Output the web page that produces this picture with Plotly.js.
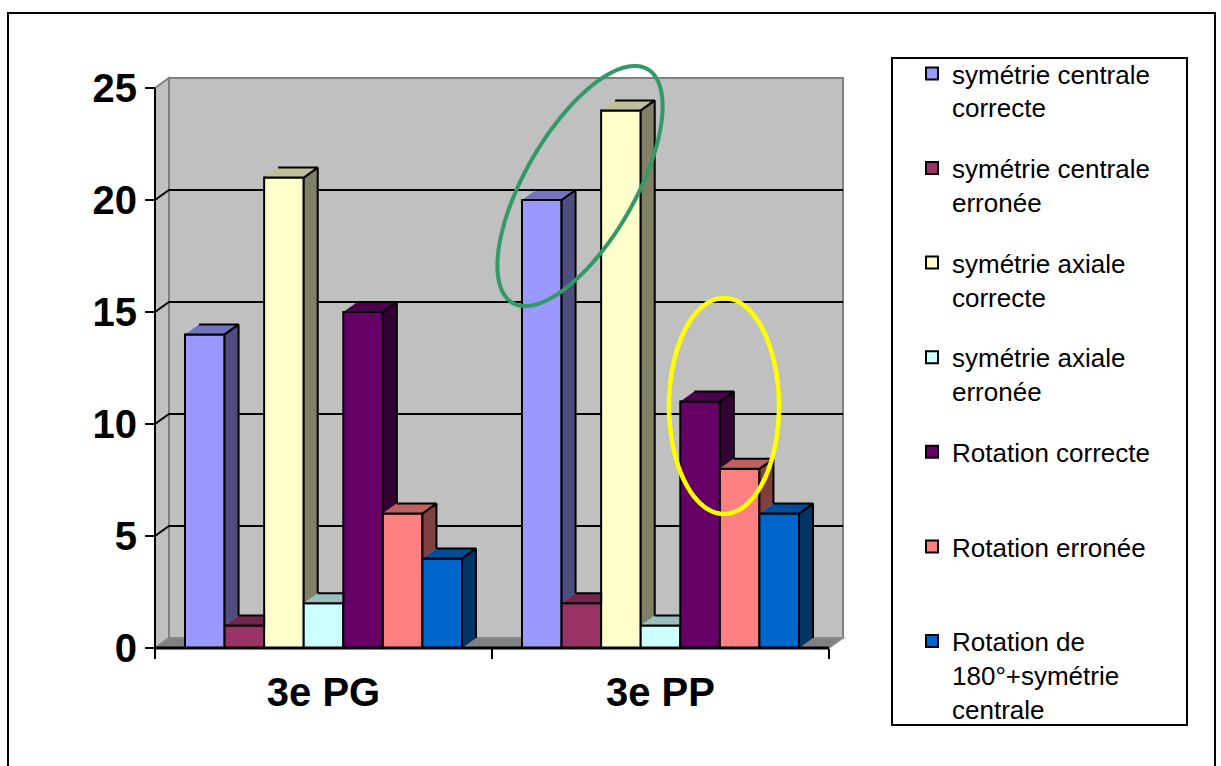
<!DOCTYPE html>
<html><head><meta charset="utf-8">
<script src="https://cdn.plot.ly/plotly-3.0.1.min.js"></script>
<style>html,body{margin:0;padding:0;background:#fff;} #chart{width:1221px;height:766px;}</style>
</head><body><div id="chart"></div>
<script>
// ---------- data ----------
const categories = ['3e PG', '3e PP'];
const seriesNames = [
  'symétrie centrale<br>correcte',
  'symétrie centrale<br>erronée',
  'symétrie axiale<br>correcte',
  'symétrie axiale<br>erronée',
  'Rotation correcte<br> ',
  'Rotation erronée<br> ',
  'Rotation de<br>180°+symétrie<br>centrale'
];
const symCentraleCorrecte = [14, 20];
const symCentraleErronee = [1, 2];
const symAxialeCorrecte = [21, 24];
const symAxialeErronee = [2, 1];
const rotationCorrecte = [15, 11];
const rotationErronee = [6, 8];
const rotation180Symetrie = [4, 6];
const yTickValues = [0, 5, 10, 15, 20, 25];
const gridValues = [5, 10, 15, 20];

// ---------- styles ----------
const seriesValues = [symCentraleCorrecte, symCentraleErronee, symAxialeCorrecte,
  symAxialeErronee, rotationCorrecte, rotationErronee, rotation180Symetrie];
const seriesColors = ['#9999FF', '#993366', '#FFFFCC', '#CCFFFF', '#660066', '#FF8080', '#0066CC'];
const FONT = 'Liberation Sans, Arial, sans-serif';
const W = 1221, H = 766;
// front axis geometry (pixels) -> axis ranges
const PX0 = 155, PXU = 337, PY0 = 648, PYU = 22.4;
const AREA = {x0: 140, x1: 860, y0: 70, y1: 665};
const xRange = [(AREA.x0 - PX0) / PXU - 0.5, (AREA.x1 - PX0) / PXU - 0.5];
const yRange = [(PY0 - AREA.y1) / PYU, (PY0 - AREA.y0) / PYU];
const DX = 14 / PXU, DY = 10 / PYU;          // 3-D depth in data units
const BARGAP = 0.178;
const nS = seriesValues.length;
const BW = (1 - BARGAP) / nS;
const YMAX = 25;

function shade(hex, f) {
  const n = parseInt(hex.slice(1), 16);
  const r = Math.round(((n >> 16) & 255) * f), g = Math.round(((n >> 8) & 255) * f), b = Math.round((n & 255) * f);
  return 'rgb(' + r + ',' + g + ',' + b + ')';
}

const traces = [];
// front faces: real bar traces
seriesValues.forEach((vals, j) => {
  traces.push({
    type: 'bar', x: categories.map((c, i) => i), y: vals, name: seriesNames[j],
    legendgroup: 'g' + j, showlegend: true,
    marker: {color: seriesColors[j], line: {color: '#000', width: 2}},
    hoverinfo: 'skip'
  });
});
// 3-D side and top faces, derived from the same values
seriesValues.forEach((vals, j) => {
  const sx = [], sy = [], tx = [], ty = [];
  categories.forEach((c, i) => {
    const v = vals[i];
    const L = i - (1 - BARGAP) / 2 + j * BW, R = L + BW;
    const h = j < nS - 1 ? seriesValues[j + 1][i] : -Infinity;
    if (h < v) {
      const hb = Math.max(0, h);
      sx.push(R, R, R + DX, R + DX, null);
      sy.push(hb, v, v + DY, hb + DY, null);
      tx.push(L, R, R + DX, L + DX, null);
      ty.push(v, v, v + DY, v + DY, null);
    } else {
      tx.push(L, R, R, L + DX, null);
      ty.push(v, v, v + DY, v + DY, null);
    }
  });
  traces.push({type: 'scatter', mode: 'lines', x: sx, y: sy, fill: 'toself',
    fillcolor: shade(seriesColors[j], 0.5), line: {color: '#000', width: 2},
    showlegend: false, hoverinfo: 'skip'});
  traces.push({type: 'scatter', mode: 'lines', x: tx, y: ty, fill: 'toself',
    fillcolor: shade(seriesColors[j], 0.75), line: {color: '#000', width: 2},
    showlegend: false, hoverinfo: 'skip'});
});

const xa = -0.5, xb = categories.length - 0.5;
const shapes = [];
// outer frame and legend box
shapes.push({type: 'rect', xref: 'paper', yref: 'paper', x0: 8 / W, x1: 1215 / W, y0: -0.1, y1: 1 - 13 / H,
  line: {color: '#000', width: 2}, layer: 'below'});
shapes.push({type: 'rect', xref: 'paper', yref: 'paper', x0: 892 / W, x1: 1187 / W, y0: 1 - 725 / H, y1: 1 - 58 / H,
  line: {color: '#000', width: 2}, layer: 'below'});
// back wall
shapes.push({type: 'rect', xref: 'x', yref: 'y', x0: xa + DX, x1: xb + DX, y0: DY, y1: YMAX + DY,
  fillcolor: '#C0C0C0', line: {color: '#808080', width: 2}, layer: 'below'});
// left wall
shapes.push({type: 'path', xref: 'x', yref: 'y',
  path: `M${xa},0 L${xa},${YMAX} L${xa + DX},${YMAX + DY} L${xa + DX},${DY} Z`,
  fillcolor: '#C0C0C0', line: {color: '#808080', width: 2}, layer: 'below'});
// floor
shapes.push({type: 'path', xref: 'x', yref: 'y',
  path: `M${xa},0 L${xb},0 L${xb + DX},${DY} L${xa + DX},${DY} Z`,
  fillcolor: '#808080', line: {color: '#8c8c8c', width: 1.5}, layer: 'below'});
// gridlines
gridValues.forEach(v => {
  shapes.push({type: 'path', xref: 'x', yref: 'y',
    path: `M${xa},${v} L${xa + DX},${v + DY} L${xb + DX},${v + DY}`,
    line: {color: '#000', width: 2}, layer: 'below'});
});
// front axis lines
shapes.push({type: 'line', xref: 'x', yref: 'y', x0: xa, x1: xa, y0: 0, y1: YMAX, line: {color: '#000', width: 2}, layer: 'below'});
shapes.push({type: 'line', xref: 'x', yref: 'y', x0: xa, x1: xb, y0: 0, y1: 0, line: {color: '#000', width: 3}, layer: 'above'});

// highlight ellipses (annotation marks, pixel geometry)
function ellipsePath(cx, cy, a, b, deg) {
  const th = deg * Math.PI / 180; let p = '';
  for (let k = 0; k <= 96; k++) {
    const t = 2 * Math.PI * k / 96;
    const px = cx + a * Math.cos(t) * Math.cos(th) + b * Math.sin(t) * Math.sin(th);
    const py = cy - a * Math.cos(t) * Math.sin(th) + b * Math.sin(t) * Math.cos(th);
    p += (k ? 'L' : 'M') + (px / W).toFixed(5) + ',' + (1 - py / H).toFixed(5);
  }
  return p + 'Z';
}
shapes.push({type: 'path', xref: 'paper', yref: 'paper', path: ellipsePath(580, 186, 135, 55, 60),
  line: {color: '#339966', width: 4}, layer: 'above'});
shapes.push({type: 'path', xref: 'paper', yref: 'paper', path: ellipsePath(724, 406, 108, 55, 90),
  line: {color: '#FFFF00', width: 4.5}, layer: 'above'});

const layout = {
  width: W, height: H, autosize: false,
  margin: {l: 0, r: 0, t: 0, b: 0},
  paper_bgcolor: '#fff', plot_bgcolor: 'rgba(0,0,0,0)',
  barmode: 'group', bargap: BARGAP, bargroupgap: 0,
  font: {family: FONT, color: '#000'},
  xaxis: {
    range: xRange, domain: [AREA.x0 / W, AREA.x1 / W], anchor: 'free', position: 1 - PY0 / H,
    showline: false, showgrid: false, zeroline: false, fixedrange: true,
    tickmode: 'array', tickvals: categories.map((c, i) => i), ticktext: categories,
    ticks: 'outside', ticklen: 9, tickcolor: 'rgba(0,0,0,0)',
    tickfont: {family: FONT, size: 40, weight: 'bold', color: '#000'},
    minor: {tickmode: 'array', tickvals: [xa, 0.5, xb], ticks: 'outside', ticklen: 10, tickwidth: 2, tickcolor: '#000', showgrid: false}
  },
  yaxis: {
    range: yRange, domain: [1 - AREA.y1 / H, 1 - AREA.y0 / H], anchor: 'free', position: PX0 / W,
    showline: false, showgrid: false, zeroline: false, fixedrange: true,
    tickmode: 'array', tickvals: yTickValues,
    ticks: 'outside', ticklen: 10, tickwidth: 2, tickcolor: '#000', ticklabelstandoff: 0,
    tickfont: {family: FONT, size: 40, weight: 'bold', color: '#000'}
  },
  legend: {
    x: 912 / W, xanchor: 'left', y: 1 - 50 / H, yanchor: 'top',
    bgcolor: 'rgba(0,0,0,0)', borderwidth: 0, valign: 'top',
    traceorder: 'grouped', tracegroupgap: 24,
    font: {family: FONT, size: 26, color: '#000'}
  },
  shapes: shapes
};
Plotly.newPlot('chart', traces, layout, {staticPlot: true, displayModeBar: false});
</script>
</body></html>
